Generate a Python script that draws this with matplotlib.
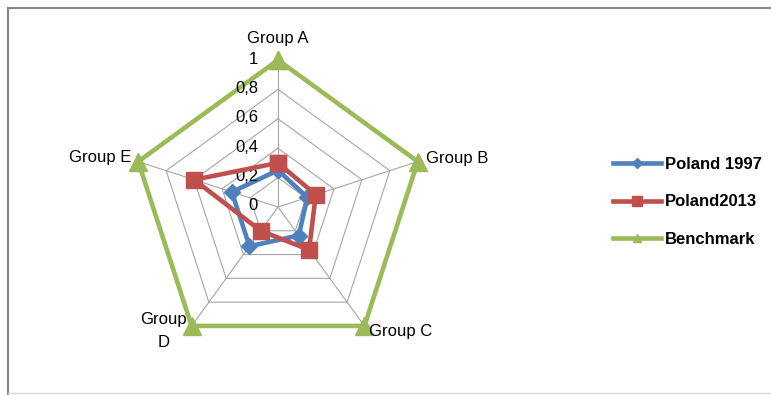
import numpy as np
import matplotlib.pyplot as plt
from matplotlib.lines import Line2D

groups = ["Group A", "Group B", "Group C", "Group\nD", "Group E"]
poland_1997 = [0.25, 0.21, 0.24, 0.33, 0.33]
poland_2013 = [0.30, 0.27, 0.36, 0.20, 0.60]
benchmark = [1.0, 1.0, 1.0, 1.0, 1.0]
r_ticks = [0, 0.2, 0.4, 0.6, 0.8, 1.0]
r_tick_labels = ["0", "0,2", "0,4", "0,6", "0,8", "1"]

blue = "#4F81BD"
red = "#C0504D"
green = "#9BBB59"

W, H = 771, 395
fig = plt.figure(figsize=(W / 100, H / 100), dpi=100)
fig.patch.set_facecolor("white")

# chart area frame (cut off on the right)
fig.add_artist(Line2D([7.5 / W, 7.5 / W], [1 - 7.5 / H, 0], color="#868686", lw=1.5))
fig.add_artist(Line2D([7.5 / W, 1], [1 - 7.5 / H, 1 - 7.5 / H], color="#868686", lw=1.5))
fig.add_artist(Line2D([7.5 / W, 1], [2 / H, 2 / H], color="#d9d9d9", lw=1))

cx, cy, R = 278, 207, 147
ax = fig.add_axes([(cx - R) / W, (H - cy - R) / H, 2 * R / W, 2 * R / H], projection="polar")
ax.set_theta_zero_location("N")
ax.set_theta_direction(-1)
ax.set_ylim(0, 1)
ax.grid(False)
ax.set_xticks([])
ax.set_yticks([])
ax.spines["polar"].set_visible(False)
ax.patch.set_visible(False)

n = len(groups)
theta = np.linspace(0, 2 * np.pi, n, endpoint=False)
theta_c = np.append(theta, theta[0])


def closed(v):
    return np.append(v, v[0])


# pentagon grid and spokes
for r in r_ticks[1:]:
    ax.plot(theta_c, [r] * (n + 1), color="#a6a6a6", lw=0.8, zorder=1)
for t in theta:
    ax.plot([t, t], [0, 1], color="#a6a6a6", lw=0.8, zorder=1)

ax.plot(theta_c, closed(poland_1997), color=blue, lw=3.3, marker="D", ms=8,
        zorder=3, clip_on=False)
ax.plot(theta_c, closed(poland_2013), color=red, lw=3.3, marker="s", ms=11,
        zorder=4, clip_on=False)
ax.plot(theta_c, closed(benchmark), color=green, lw=3.3, marker="^", ms=13,
        zorder=2, clip_on=False)

fs = 12
for r, lab in zip(r_ticks, r_tick_labels):
    ax.annotate(lab, xy=(0, r), xytext=(-20, 1), textcoords="offset pixels",
                ha="right", va="center", fontsize=fs, color="black",
                fontfamily="Liberation Sans", annotation_clip=False)

offsets = [(0, 21, "center", "center"),
           (8, 3, "left", "center"),
           (5, -6, "left", "center"),
           (-28, -5, "center", "center"),
           (-7, 4, "right", "center")]
for t, lab, (dx, dy, ha, va) in zip(theta, groups, offsets):
    ax.annotate(lab, xy=(t, 1), xytext=(dx, dy), textcoords="offset pixels",
                ha=ha, va=va, fontsize=fs, fontfamily="Liberation Sans",
                linespacing=1.6, annotation_clip=False)

handles = [Line2D([], [], color=blue, lw=3.3, marker="D", ms=5),
           Line2D([], [], color=red, lw=3.3, marker="s", ms=7),
           Line2D([], [], color=green, lw=3.3, marker="^", ms=6)]
fig.legend(handles, ["Poland 1997", "Poland2013", "Benchmark"],
           loc="center left", bbox_to_anchor=(613 / W, 1 - 202 / H),
           frameon=False, handlelength=2.9, handletextpad=0.22,
           labelspacing=1.35, borderaxespad=0, borderpad=0,
           prop={"family": "Liberation Sans", "size": 12, "weight": "bold"})

fig.savefig("out.png", dpi=100)
